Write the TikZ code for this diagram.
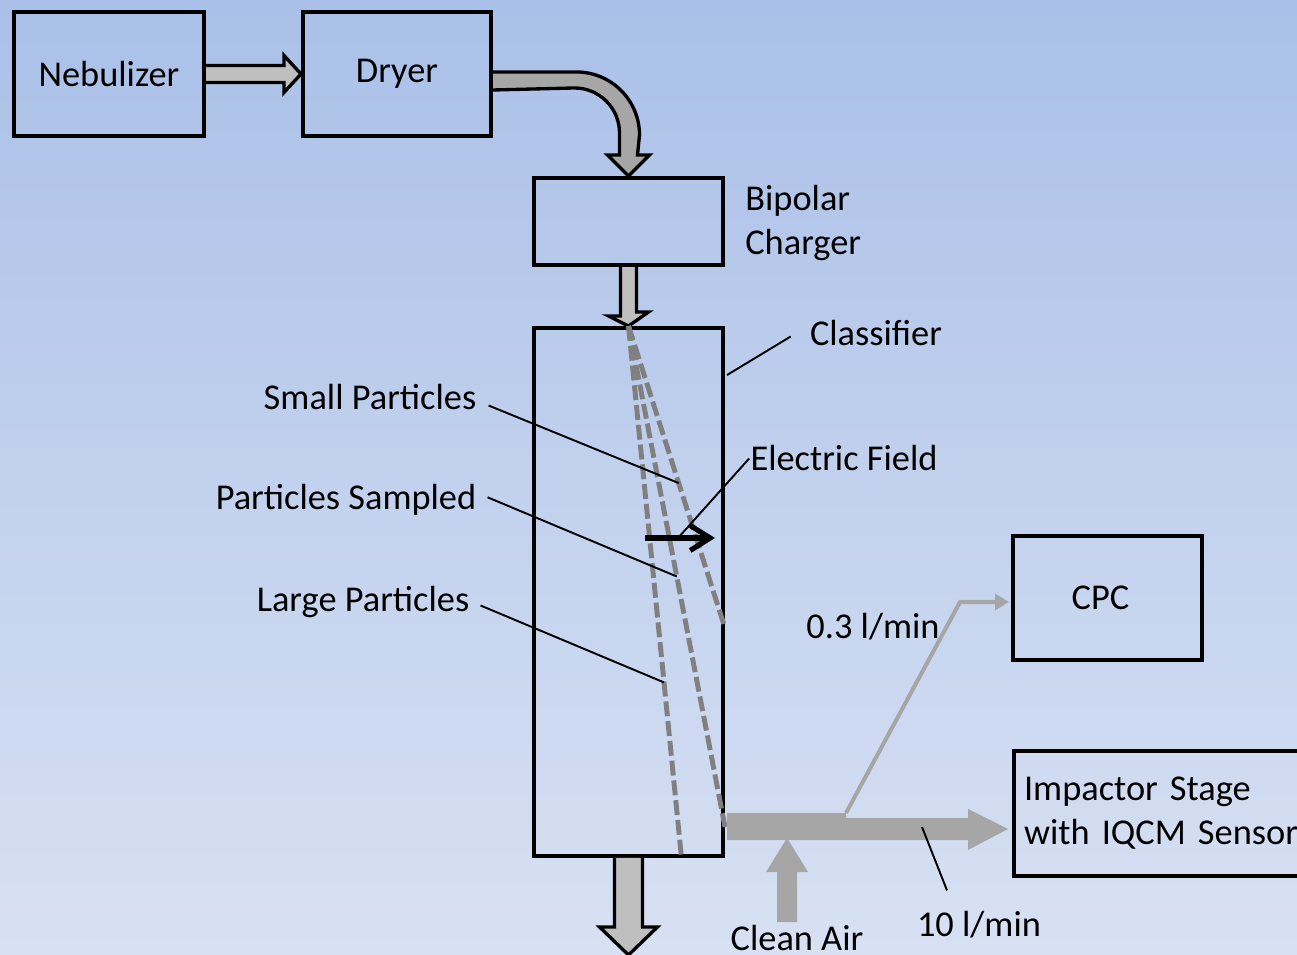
\documentclass[tikz,border=0pt]{standalone}
\usepackage{fontspec}
\setmainfont{Carlito}
\usepackage{xcolor}
\usepackage{tikz}
\usetikzlibrary{calc, arrows.meta}
\definecolor{bgtop}{RGB}{170,192,232}
\definecolor{bgbot}{RGB}{216,225,243}
\definecolor{arrowlight}{RGB}{191,191,191}
\definecolor{arrowdark}{RGB}{166,166,166}
\definecolor{flowgray}{RGB}{166,166,166}
\definecolor{pathgray}{RGB}{128,128,128}

\begin{document}
\begin{tikzpicture}[x=0.02cm, y=-0.02cm,
    every node/.style={font=\fontsize{20.7}{25}\selectfont, inner sep=0.1cm},
    box/.style={draw, line width=2.3pt, minimum width=3.78cm, minimum height=2.48cm},
    blockarrow/.style={draw, line width=1.9pt, fill=arrowlight, line join=miter},
    leader/.style={line width=1.1pt},
    trajectory/.style={pathgray, line width=2.8pt, dash pattern=on 8.5pt off 2.8pt},
    flowline/.style={flowgray, line width=2.3pt, -{Triangle[length=0.28cm, width=0.32cm]}}]
    \useasboundingbox (0,0) rectangle (1297,955);
    \shade[top color=bgtop, bottom color=bgbot] (0,0) rectangle (1297,955);
    \clip (0,0) rectangle (1297,955);

    \node[box, minimum width=3.8cm] (neb) at (109,74) {Nebulizer};
    \node[box, minimum width=3.76cm] (dry) at (397,74) {Dryer};
    \node[box, minimum height=1.74cm] (chg) at (628.5,221.5) {};
    \node[box, minimum height=10.56cm] (cls) at (628.5,592) {};
    \node[box] (cpc) at (1107.5,598) {\hspace*{-0.28cm}CPC};
    \node[box, anchor=west, text width=5.8cm, align=left, inner xsep=0.2cm, minimum height=2.5cm] (imp) at (1012,813.5) {Impactor Stage\\with IQCM Sensor};

    \node[anchor=west, align=left] (chglbl) at (740,223) {Bipolar\\Charger};
    \node[anchor=base] (clslbl) at (876,346) {Classifier};
    \node[anchor=base] (small) at (370,410) {Small Particles};
    \node[anchor=base] (sampled) at (346,510) {Particles Sampled};
    \node[anchor=base] (large) at (363,611) {Large Particles};
    \node[anchor=base] (efield) at (844,471) {Electric Field};
    \node[anchor=base] (lowflow) at (873,638) {0.3 l/min};
    \node[anchor=base] (highflow) at (979,936) {10 l/min};
    \node[anchor=base] (airlbl) at (797,950) {Clean Air};

    % aerosol path
    \draw[blockarrow] ($(neb.east)+(0,-8.5)$) -- ($(dry.west)+(-17,-8.5)$) -- ++(0,-10) -- (dry.west) -- ++(-17,18.5) -- ++(0,-10) -- ($(neb.east)+(0,8.5)$);
    \draw[blockarrow, fill=arrowdark] ($(dry.east)+(0,-2)$) -- ++(83.5,0) arc[start angle=-90, end angle=0, radius=63] -- ($(chg.north)+(9,-21)$) -- ++(12,0) -- (chg.north) -- ++(-21,-21) -- ++(12,0) -- ++(0,-22) arc[start angle=0, end angle=-90, radius=45] -- ($(dry.east)+(0,16)$);
    \draw[blockarrow] ($(chg.south)+(-8,0)$) -- ++(0,49) -- ++(-12,0) -- (cls.north) -- ++(20,-14) -- ++(-12,0) -- ($(chg.south)+(8,0)$);
    \draw[blockarrow] ($(cls.south)+(-14,0)$) -- ++(0,69) -- ++(-15,0) -- ++(29,28) -- ++(29,-28) -- ++(-15,0) -- ++(0,-69);

    % particle trajectories
    \coordinate (inlet) at (cls.north);
    \coordinate (smallend) at ($(cls.north east)+(0,302)$);
    \coordinate (sampledend) at ($(cls.south east)+(0,-31)$);
    \coordinate (largeend) at ($(cls.south)+(53,0)$);
    \foreach \e in {smallend, sampledend, largeend}
        \draw[trajectory] (inlet) -- (\e);

    \coordinate (efbase) at (645,538);
    \draw[line width=2.9pt, -{Straight Barb[length=0.4cm, width=0.5cm]}] (efbase) -- ++(70,0);

    \draw[leader] ($(cls.north east)+(2,49)$) -- ($(clslbl.west)+(-14,3)$);
    \draw[leader] ($(small.east)+(7,8)$) -- ($(inlet)!0.52!(smallend)$);
    \draw[leader] ($(sampled.east)+(6,-3)$) -- ($(inlet)!0.5!(sampledend)$);
    \draw[leader] ($(large.east)+(6,4)$) -- ($(inlet)!0.67!(largeend)$);
    \draw[leader] ($(efield.west)+(4,0)$) -- ($(efbase)+(33,0)$);

    % sample flow
    \coordinate (split) at (846,829);
    \coordinate (airin) at (787,922);
    \fill[flowgray] ($(cls.east |- split)+(2,-16)$) -- ($(split)+(0,-16)$) -- ($(split)+(0,-11)$) -- ($(imp.west |- split)+(-44,-11)$) -- ++(0,-9) -- ($(imp.west |- split)+(-4,0)$) -- ++(-40,21) -- ++(0,-10) -- ($(cls.east |- split)+(2,11)$) -- cycle;
    \fill[flowgray] ($(airin)+(-10,0)$) -- ++(0,-50) -- ++(-11,0) -- ($(airin)+(0,-84)$) -- ++(21,34) -- ++(-11,0) -- ++(0,50) -- cycle;
    \draw[flowline] ($(split)+(0,-16)$) -- ($(cpc.west)+(-51,4)$) -- ($(cpc.west)+(-2,4)$);
    \draw[leader] ($(highflow.north)+(-32,-15)$) -- ($(split)+(76,-2)$);
\end{tikzpicture}
\end{document}
